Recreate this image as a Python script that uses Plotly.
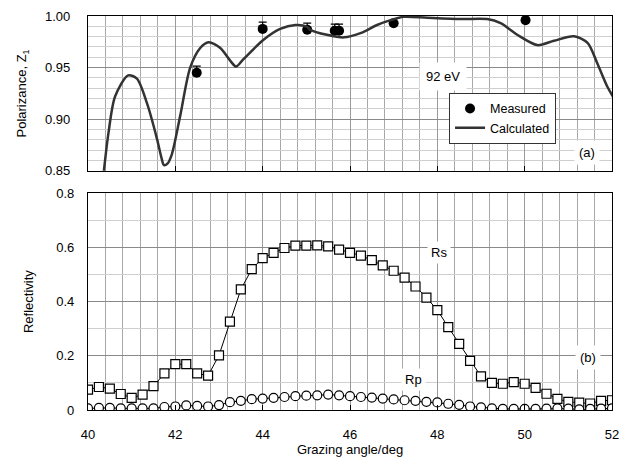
import plotly.graph_objects as go
from plotly.subplots import make_subplots

# ---- Panel (a): polarizance ----
calc_x = [40.35, 40.47, 40.62, 40.92, 41.12, 41.35, 41.58, 41.68, 41.74, 41.82, 41.92, 42.11, 42.34, 42.57,
          42.76, 43.03, 43.26, 43.39, 43.56, 44.02, 44.40, 44.75, 45.01, 45.09, 45.47, 45.86,
          46.24, 46.62, 46.93, 47.23, 47.77, 48.53, 49.14, 49.45, 49.83, 50.29, 50.67, 51.13,
          51.44, 51.67, 51.90, 52.16]
calc_y = [0.8446, 0.887, 0.922, 0.9425, 0.9393, 0.9156, 0.881, 0.863, 0.8555, 0.857, 0.866, 0.903, 0.950, 0.969,
          0.9746, 0.969, 0.9566, 0.951, 0.9582, 0.977, 0.9875, 0.9913, 0.9898, 0.9866, 0.9818, 0.9793,
          0.9834, 0.9913, 0.996, 0.9992, 0.9982, 0.997, 0.997, 0.993, 0.9818, 0.9718, 0.976, 0.9803,
          0.974, 0.9535, 0.931, 0.9125]

meas_x = [42.49, 44.0, 45.02, 45.65, 45.75, 47.0, 50.02]
meas_y = [0.945, 0.9875, 0.9866, 0.9857, 0.9857, 0.993, 0.996]
meas_err = [0.0065, 0.0065, 0.0065, 0.0065, 0.0065, 0.0, 0.0]

# ---- Panel (b): reflectivity ----
angles = [40.0 + 0.25 * i for i in range(49)]
rs = [0.075, 0.085, 0.079, 0.059, 0.045, 0.057, 0.088, 0.135, 0.169, 0.169, 0.135, 0.127,
      0.202, 0.326, 0.445, 0.520, 0.561, 0.580, 0.598, 0.607, 0.607, 0.608, 0.604, 0.592,
      0.580, 0.570, 0.553, 0.534, 0.514, 0.489, 0.456, 0.415, 0.369, 0.306, 0.244, 0.181,
      0.124, 0.100, 0.097, 0.103, 0.097, 0.082, 0.060, 0.041, 0.030, 0.027, 0.024, 0.034,
      0.036]
rp = [0.006, 0.008, 0.008, 0.006, 0.006, 0.006, 0.006, 0.011, 0.013, 0.017, 0.015, 0.013,
      0.018, 0.029, 0.034, 0.040, 0.042, 0.045, 0.048, 0.051, 0.053, 0.054, 0.057, 0.054,
      0.051, 0.048, 0.046, 0.042, 0.039, 0.036, 0.034, 0.030, 0.028, 0.023, 0.019, 0.013,
      0.010, 0.006, 0.004, 0.004, 0.004, 0.004, 0.005, 0.006, 0.005, 0.002, 0.004, 0.005,
      0.006]

FONT = "Liberation Sans, Arial, sans-serif"

fig = make_subplots(rows=2, cols=1, shared_xaxes=False, vertical_spacing=0.0)

fig.add_trace(go.Scatter(x=meas_x, y=meas_y, mode="markers", name="Measured",
                         marker=dict(color="black", size=10),
                         error_y=dict(type="data", symmetric=False, array=meas_err,
                                      arrayminus=[0] * len(meas_err), color="black",
                                      thickness=1.2, width=4)),
              row=1, col=1)
fig.add_trace(go.Scatter(x=calc_x, y=calc_y, mode="lines", name="Calculated",
                         line=dict(color="#333333", width=2.5, shape="spline", smoothing=0.8)),
              row=1, col=1)

fig.add_trace(go.Scatter(x=angles, y=rs, mode="lines+markers", showlegend=False,
                         line=dict(color="black", width=1),
                         marker=dict(symbol="square", size=9, color="white",
                                     line=dict(width=1.2, color="black"))),
              row=2, col=1)
fig.add_trace(go.Scatter(x=angles, y=rp, mode="lines+markers", showlegend=False,
                         line=dict(color="black", width=1),
                         marker=dict(symbol="circle", size=9, color="white",
                                     line=dict(width=1.2, color="black"))),
              row=2, col=1)

xcommon = dict(range=[40, 52], dtick=2, tick0=40, showline=True, mirror=True, linecolor="black",
               linewidth=1.2, ticks="inside", ticklen=5, tickcolor="black",
               showgrid=True, gridcolor="#9a9a9a", gridwidth=1, zeroline=False,
               minor=dict(dtick=0.4, tick0=40, showgrid=True, gridcolor="#a8a8a8", gridwidth=1),
               tickfont=dict(family=FONT, size=13, color="black"))

fig.update_xaxes(**xcommon, showticklabels=False, row=1, col=1)
fig.update_xaxes(**xcommon, showticklabels=True, ticklabelstandoff=12,
                 title=dict(text="Grazing angle/deg", font=dict(family=FONT, size=13, color="black"),
                            standoff=2),
                 row=2, col=1)

fig.update_yaxes(range=[0.85, 1.0], dtick=0.05, tickformat=".2f", showline=True, mirror=True,
                 linecolor="black", linewidth=1.2, ticks="", showgrid=True, gridcolor="#8a8a8a",
                 zeroline=False, ticklabelstandoff=14,
                 minor=dict(dtick=0.01, showgrid=True, gridcolor="#cfcfcf"),
                 tickfont=dict(family=FONT, size=13, color="black"),
                 title=dict(text="Polarizance, Z<sub>1</sub>",
                            font=dict(family=FONT, size=13, color="black"), standoff=15),
                 row=1, col=1)
fig.update_yaxes(range=[0, 0.8], dtick=0.2, tickvals=[0, 0.2, 0.4, 0.6, 0.8],
                 ticktext=["0", "0.2", "0.4", "0.6", "0.8"], showline=True, mirror=True,
                 linecolor="black", linewidth=1.2, ticks="", showgrid=True, gridcolor="#8a8a8a",
                 zeroline=False, ticklabelstandoff=10,
                 minor=dict(dtick=0.1, showgrid=True, gridcolor="#cfcfcf"),
                 tickfont=dict(family=FONT, size=13, color="black"),
                 title=dict(text="Reflectivity", font=dict(family=FONT, size=13, color="black"),
                            standoff=19),
                 row=2, col=1)

fig.update_layout(yaxis=dict(domain=[0.607, 1.0]), yaxis2=dict(domain=[0.0, 0.55]))

ann_font = dict(family=FONT, size=13, color="black")
annotations = [
    dict(x=48.12, y=0.941, xref="x", yref="y", text="92 eV", borderpad=6),
    dict(x=51.42, y=0.868, xref="x", yref="y", text="(a)", borderpad=4),
    dict(x=48.03, y=0.58, xref="x2", yref="y2", text="Rs", borderpad=3),
    dict(x=47.45, y=0.112, xref="x2", yref="y2", text="Rp", borderpad=3),
    dict(x=51.45, y=0.192, xref="x2", yref="y2", text="(b)", borderpad=4),
]
for a in annotations:
    fig.add_annotation(showarrow=False, bgcolor="white", font=ann_font, **a)

# page body has an 8px margin: shrink the figure so the plot area lands where the reference has it
fig.update_layout(
    width=623, height=457,
    margin=dict(l=80, r=19, t=1, b=55),
    paper_bgcolor="white", plot_bgcolor="white",
    font=dict(family=FONT, size=13, color="black"),
    legend=dict(x=0.689, y=0.805, xanchor="left", yanchor="top",
                bgcolor="white", bordercolor="#333333", borderwidth=1,
                font=dict(family=FONT, size=12.5, color="black"),
                itemwidth=30, tracegroupgap=0),
)

fig.write_html("out.html")
